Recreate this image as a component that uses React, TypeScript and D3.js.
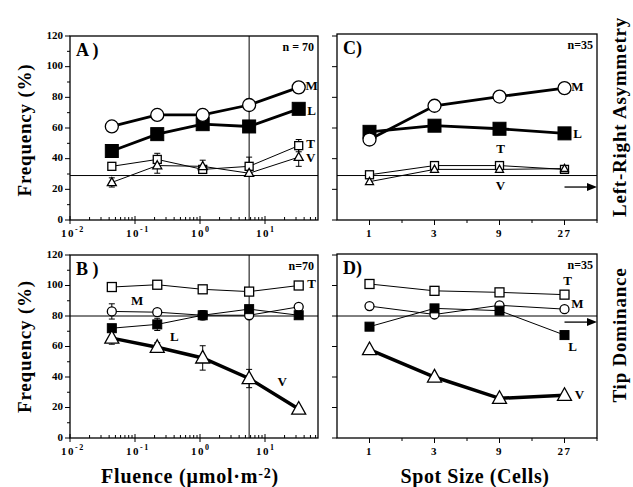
import React from 'react';
import * as d3 from 'd3';

// ---------- data ----------
const fluence = [0.044, 0.22, 1.1, 5.7, 33];
const spotSize = [1, 3, 9, 27];
const freqTicks = [0, 20, 40, 60, 80, 100, 120];
const fluenceDecades = [-2, -1, 0, 1];

// Panel A (left-right asymmetry vs fluence)
const aM = [61, 68.5, 68.5, 75, 86.5];
const aL = [45, 56, 62.5, 61, 72.5];
const aLErr = [0, 3, 0, 2, 0];
const aT = [35, 39.5, 33, 35, 48.5];
const aTErr = [0, 4, 2, 6, 4];
const aV = [24.5, 35.5, 35, 30.5, 41];
const aVErr = [3, 5, 4, 2, 6];

// Panel B (tip dominance vs fluence)
const bT = [99, 100.5, 97.5, 96, 100];
const bM = [83, 82.5, 80.5, 80.5, 86];
const bMErr = [5, 0, 0, 0, 0];
const bL = [72, 74.5, 80.5, 84.5, 80.5];
const bLErr = [0, 4, 3, 0, 0];
const bV = [65.5, 59.5, 52.5, 39, 19];
const bVErr = [4, 3, 8, 6, 0];

// Panel C (left-right asymmetry vs spot size)
const cM = [52.5, 74.5, 80.5, 86];
const cL = [57.5, 61.5, 59.5, 56.5];
const cT = [29.5, 35.5, 35.5, 33];
const cV = [25, 33, 33, 33.5];

// Panel D (tip dominance vs spot size)
const dT = [101, 96.5, 95.5, 94];
const dM = [86.5, 81, 87, 84.5];
const dL = [73, 85, 83.5, 67.5];
const dV = [58, 40, 26, 28];

const chanceAsym = 29;
const chanceTip = 80;
const fluenceMark = 5.7;
const arrowAsym = 21.5;
const arrowTip = 76;

// ---------- helpers ----------
const FONT = '"Liberation Serif", "Times New Roman", serif';

type Shape = 'circle' | 'square' | 'triangle';
interface Series {
  name: string;
  values: number[];
  errors?: number[];
  shape: Shape;
  size: number;
  filled: boolean;
  lw: number;
  label: { idx: number; dx: number; dy: number };
}

function symbol(shape: Shape, x: number, y: number, s: number, filled: boolean, key: string) {
  const fill = filled ? '#000' : '#fff';
  const sw = filled ? 1 : 1.3;
  if (shape === 'circle')
    return <circle key={key} cx={x} cy={y} r={s / 2} fill={fill} stroke="#000" strokeWidth={sw} />;
  if (shape === 'square')
    return <rect key={key} x={x - s / 2} y={y - s / 2} width={s} height={s} fill={fill} stroke="#000" strokeWidth={sw} />;
  const h = s * 0.9;
  const p = `M${x},${y - h * 0.6}L${x + s / 2},${y + h * 0.4}L${x - s / 2},${y + h * 0.4}Z`;
  return <path key={key} d={p} fill={fill} stroke="#000" strokeWidth={sw} strokeLinejoin="miter" />;
}

function renderSeries(series: Series[], xs: number[], x: (v: number) => number, y: (v: number) => number, pid: string) {
  const line = d3.line<number>().x((_, i) => x(xs[i])).y((d) => y(d));
  const out: any[] = [];
  series.forEach((s, si) => {
    out.push(<path key={`${pid}l${si}`} d={line(s.values) || ''} fill="none" stroke="#000" strokeWidth={s.lw} />);
  });
  series.forEach((s, si) => {
    if (!s.errors) return;
    s.errors.forEach((e, i) => {
      if (!e) return;
      const cx = x(xs[i]);
      const y1 = y(s.values[i] + e);
      const y2 = y(s.values[i] - e);
      out.push(
        <g key={`${pid}e${si}-${i}`} stroke="#000" strokeWidth={1}>
          <line x1={cx} x2={cx} y1={y1} y2={y2} />
          <line x1={cx - 3} x2={cx + 3} y1={y1} y2={y1} />
          <line x1={cx - 3} x2={cx + 3} y1={y2} y2={y2} />
        </g>
      );
    });
  });
  series.forEach((s, si) => {
    s.values.forEach((v, i) => {
      out.push(symbol(s.shape, x(xs[i]), y(v), s.size, s.filled, `${pid}s${si}-${i}`));
    });
  });
  series.forEach((s, si) => {
    const i = s.label.idx;
    out.push(
      <text key={`${pid}t${si}`} x={x(xs[i]) + s.label.dx} y={y(s.values[i]) + s.label.dy}
        fontFamily={FONT} fontWeight="bold" fontSize={13} textAnchor="middle" dominantBaseline="middle">
        {s.name}
      </text>
    );
  });
  return out;
}

function yAxis(y: d3.ScaleLinear<number, number>, left: number, withLabels: boolean, pid: string) {
  const out: any[] = [];
  for (let v = 0; v <= 120; v += 10) {
    const major = v % 20 === 0;
    if (!withLabels && !major) continue;
    out.push(<line key={`${pid}yt${v}`} x1={left} x2={left - (major ? 5 : 3)} y1={y(v)} y2={y(v)} stroke="#000" strokeWidth={1} />);
  }
  if (withLabels)
    freqTicks.forEach((v) =>
      out.push(
        <text key={`${pid}yl${v}`} x={left - 7} y={y(v)} textAnchor="end" dominantBaseline="middle"
          fontFamily={FONT} fontWeight="bold" fontSize={11}>
          {v}
        </text>
      )
    );
  return out;
}

function logXAxis(x: d3.ScaleLogarithmic<number, number>, bottom: number, pid: string) {
  const out: any[] = [];
  const [d0, d1] = x.domain();
  for (let e = -2; e <= 2; e++) {
    for (let m = 1; m <= 9; m++) {
      const v = m * Math.pow(10, e);
      if (v < d0 - 1e-9 || v > d1) continue;
      const px = x(v);
      if (m === 1) {
        out.push(<line key={`${pid}xt${e}${m}`} x1={px} x2={px} y1={bottom - 4} y2={bottom + 4} stroke="#000" strokeWidth={1} />);
      } else {
        out.push(<line key={`${pid}xt${e}${m}`} x1={px} x2={px} y1={bottom} y2={bottom - 3} stroke="#000" strokeWidth={1} />);
      }
    }
  }
  fluenceDecades.forEach((e) => {
    const px = x(Math.pow(10, e));
    out.push(
      <text key={`${pid}xl${e}`} x={px - 9} y={bottom + 17} fontFamily={FONT} fontWeight="bold" fontSize={11} letterSpacing={1.5}>
        10
        <tspan dy={-5} fontSize={8}>{e}</tspan>
      </text>
    );
  });
  return out;
}

function spotXAxis(x: d3.ScaleLogarithmic<number, number>, bottom: number, pid: string) {
  const out: any[] = [];
  spotSize.forEach((v, i) => {
    const px = x(v);
    out.push(<line key={`${pid}xt${i}`} x1={px} x2={px} y1={bottom} y2={bottom + 5} stroke="#000" strokeWidth={1} />);
    out.push(
      <text key={`${pid}xl${i}`} x={px} y={bottom + 17} textAnchor="middle" fontFamily={FONT} fontWeight="bold" fontSize={11} letterSpacing={1.5}>
        {v}
      </text>
    );
    if (i < spotSize.length - 1) {
      const mx = x(Math.sqrt(v * spotSize[i + 1]));
      out.push(<line key={`${pid}xm${i}`} x1={mx} x2={mx} y1={bottom} y2={bottom + 3} stroke="#000" strokeWidth={1} />);
    }
  });
  const ex = x(spotSize[spotSize.length - 1] * Math.sqrt(3));
  out.push(<line key={`${pid}xe`} x1={ex} x2={ex} y1={bottom} y2={bottom + 3} stroke="#000" strokeWidth={1} />);
  return out;
}

function frame(left: number, right: number, top: number, bottom: number, pid: string) {
  return <rect key={`${pid}fr`} x={left} y={top} width={right - left} height={bottom - top} fill="none" stroke="#000" strokeWidth={1.3} />;
}

function panelText(letter: string, n: string, left: number, right: number, top: number, pid: string) {
  return [
    <text key={`${pid}let`} x={left + 6} y={top + 20} fontFamily={FONT} fontWeight="bold" fontSize={18}>
      {letter}
    </text>,
    <text key={`${pid}n`} x={right - 4} y={top + 15} textAnchor="end" fontFamily={FONT} fontWeight="bold" fontSize={12}>
      {n}
    </text>,
  ];
}

function arrow(x1: number, x2: number, yv: number, pid: string) {
  return (
    <g key={`${pid}arr`}>
      <line x1={x1} x2={x2 - 8} y1={yv} y2={yv} stroke="#000" strokeWidth={1.3} />
      <path d={`M${x2},${yv}L${x2 - 10},${yv - 4}L${x2 - 10},${yv + 4}Z`} fill="#000" />
    </g>
  );
}

export default function App() {
  // geometry
  const L1 = 70, R1 = 318, L2 = 337, R2 = 597;
  const topT = 36, botT = 220, topB = 255, botB = 438;

  const xF = d3.scaleLog().domain([0.01, Math.pow(10, 1 + 53 / 65)]).range([L1, R1]);
  const xS = d3.scaleLog().base(3).domain([1 / Math.sqrt(3), 27 * Math.sqrt(3)]).range([L2, R2]);
  const yT = d3.scaleLinear().domain([0, 120]).range([botT, topT]);
  const yB = d3.scaleLinear().domain([0, 120]).range([botB, topB]);

  const seriesA: Series[] = [
    { name: 'T', values: aT, errors: aTErr, shape: 'square', size: 8, filled: false, lw: 1, label: { idx: 4, dx: 12, dy: -1 } },
    { name: 'V', values: aV, errors: aVErr, shape: 'triangle', size: 9, filled: false, lw: 1, label: { idx: 4, dx: 12, dy: 2 } },
    { name: 'L', values: aL, errors: aLErr, shape: 'square', size: 13, filled: true, lw: 2.8, label: { idx: 4, dx: 13, dy: 3 } },
    { name: 'M', values: aM, shape: 'circle', size: 13, filled: false, lw: 2.8, label: { idx: 4, dx: 13, dy: 0 } },
  ];
  const seriesB: Series[] = [
    { name: 'T', values: bT, shape: 'square', size: 9, filled: false, lw: 1, label: { idx: 4, dx: 13, dy: 0 } },
    { name: 'M', values: bM, errors: bMErr, shape: 'circle', size: 9, filled: false, lw: 1, label: { idx: 1, dx: -20, dy: -10 } },
    { name: 'L', values: bL, errors: bLErr, shape: 'square', size: 9, filled: true, lw: 1, label: { idx: 1, dx: 17, dy: 14 } },
    { name: 'V', values: bV, errors: bVErr, shape: 'triangle', size: 14, filled: false, lw: 3.5, label: { idx: 3, dx: 33, dy: 4 } },
  ];
  const seriesC: Series[] = [
    { name: 'T', values: cT, shape: 'square', size: 8, filled: false, lw: 1, label: { idx: 2, dx: 1, dy: -16 } },
    { name: 'V', values: cV, shape: 'triangle', size: 8, filled: false, lw: 1, label: { idx: 2, dx: 1, dy: 18 } },
    { name: 'L', values: cL, shape: 'square', size: 13, filled: true, lw: 2.8, label: { idx: 3, dx: 13, dy: 2 } },
    { name: 'M', values: cM, shape: 'circle', size: 13, filled: false, lw: 2.8, label: { idx: 3, dx: 13, dy: 0 } },
  ];
  const seriesD: Series[] = [
    { name: 'T', values: dT, shape: 'square', size: 9, filled: false, lw: 1, label: { idx: 3, dx: 3, dy: -13 } },
    { name: 'M', values: dM, shape: 'circle', size: 9, filled: false, lw: 1, label: { idx: 3, dx: 13, dy: -4 } },
    { name: 'L', values: dL, shape: 'square', size: 9, filled: true, lw: 1, label: { idx: 3, dx: 8, dy: 13 } },
    { name: 'V', values: dV, shape: 'triangle', size: 14, filled: false, lw: 3.5, label: { idx: 3, dx: 15, dy: 1 } },
  ];

  return (
    <svg width={633} height={487} style={{ position: 'absolute', left: 0, top: 0, background: '#fff' }}>
      <rect x={0} y={0} width={633} height={487} fill="#fff" />
      {/* Panel A */}
      <line x1={L1} x2={R1} y1={yT(chanceAsym)} y2={yT(chanceAsym)} stroke="#000" strokeWidth={1} />
      <line x1={xF(fluenceMark)} x2={xF(fluenceMark)} y1={topT} y2={botT} stroke="#000" strokeWidth={1} />
      {frame(L1, R1, yT(120), botT, 'A')}
      {yAxis(yT, L1, true, 'A')}
      {logXAxis(xF, botT, 'A')}
      {renderSeries(seriesA, fluence, xF, yT, 'A')}
      {panelText('A )', 'n = 70', L1, R1, yT(120), 'A')}

      {/* Panel B */}
      <line x1={L1} x2={R1} y1={yB(chanceTip)} y2={yB(chanceTip)} stroke="#000" strokeWidth={1} />
      <line x1={xF(fluenceMark)} x2={xF(fluenceMark)} y1={topB} y2={botB} stroke="#000" strokeWidth={1} />
      {frame(L1, R1, yB(120), botB, 'B')}
      {yAxis(yB, L1, true, 'B')}
      {logXAxis(xF, botB, 'B')}
      {renderSeries(seriesB, fluence, xF, yB, 'B')}
      {panelText('B )', 'n=70', L1, R1, yB(120), 'B')}

      {/* Panel C */}
      <line x1={L2} x2={R2} y1={yT(chanceAsym)} y2={yT(chanceAsym)} stroke="#000" strokeWidth={1} />
      {frame(L2, R2, yT(120) - 2, botT, 'C')}
      {yAxis(yT, L2, false, 'C')}
      {spotXAxis(xS, botT, 'C')}
      {renderSeries(seriesC, spotSize, xS, yT, 'C')}
      {arrow(xS(27), R2, yT(arrowAsym), 'C')}
      {panelText('C)', 'n=35', L2, R2, yT(120) - 2, 'C')}

      {/* Panel D */}
      <line x1={L2} x2={R2} y1={yB(chanceTip)} y2={yB(chanceTip)} stroke="#000" strokeWidth={1} />
      {frame(L2, R2, yB(120) - 1, botB, 'D')}
      {yAxis(yB, L2, false, 'D')}
      {spotXAxis(xS, botB, 'D')}
      {renderSeries(seriesD, spotSize, xS, yB, 'D')}
      {arrow(xS(27), R2, yB(arrowTip), 'D')}
      {panelText('D)', 'n=35', L2, R2, yB(120) - 1, 'D')}

      {/* axis titles */}
      <text transform={`translate(31,${(topT + botT) / 2 + 2}) rotate(-90)`} textAnchor="middle" fontFamily={FONT} fontWeight="bold" fontSize={19} letterSpacing={0.8}>
        Frequency  (%)
      </text>
      <text transform={`translate(31,${(topB + botB) / 2}) rotate(-90)`} textAnchor="middle" fontFamily={FONT} fontWeight="bold" fontSize={19} letterSpacing={0.8}>
        Frequency  (%)
      </text>
      <text x={(L1 + R1) / 2 - 4} y={483} textAnchor="middle" fontFamily={FONT} fontWeight="bold" fontSize={20} letterSpacing={0.8}>
        Fluence  (μmol·m
        <tspan fontSize={14} dy={-5}>-2</tspan>
        <tspan dy={5}>)</tspan>
      </text>
      <text x={(L2 + R2) / 2 + 8} y={483} textAnchor="middle" fontFamily={FONT} fontWeight="bold" fontSize={20} letterSpacing={0.6}>
        Spot  Size  (Cells)
      </text>
      <text transform={`translate(626,117) rotate(-90)`} textAnchor="middle" fontFamily={FONT} fontWeight="bold" fontSize={19} letterSpacing={0.8}>
        Left-Right  Asymmetry
      </text>
      <text transform={`translate(626,335) rotate(-90)`} textAnchor="middle" fontFamily={FONT} fontWeight="bold" fontSize={19} letterSpacing={0.8}>
        Tip  Dominance
      </text>
    </svg>
  );
}
